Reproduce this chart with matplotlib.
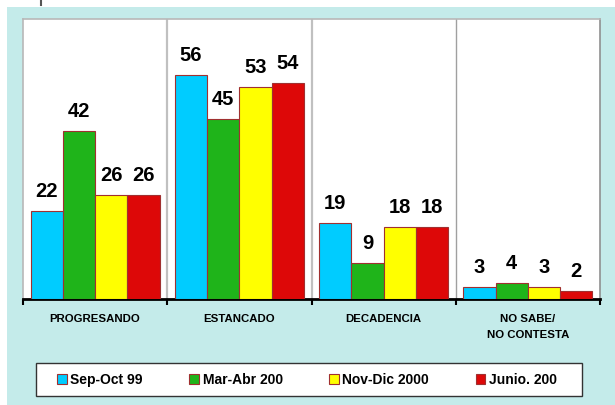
import numpy as np
import matplotlib
matplotlib.use('Agg')
import matplotlib.pyplot as plt
from matplotlib.patches import Patch, Rectangle
from matplotlib.lines import Line2D

plt.rcParams['font.family'] = ['Liberation Sans', 'DejaVu Sans']

# data
categories = ['PROGRESANDO', 'ESTANCADO', 'DECADENCIA', 'NO SABE/\nNO CONTESTA']
series = ['Sep-Oct 99', 'Mar-Abr 200', 'Nov-Dic 2000', 'Junio. 200']
sep_oct_99 = [22, 56, 19, 3]
mar_abr_200 = [42, 45, 9, 4]
nov_dic_2000 = [26, 53, 18, 3]
junio_200 = [26, 54, 18, 2]

values = [sep_oct_99, mar_abr_200, nov_dic_2000, junio_200]
colors = ['#00CCFF', '#1FB41A', '#FFFF00', '#DD0808']
edge = '#A03030'
teal = '#C4EBEA'

fig = plt.figure(figsize=(6.15, 4.06), dpi=100)
fig.patch.set_facecolor('white')
# teal panel behind the chart
fig.patches.append(Rectangle((7 / 615, 0), 1, 1 - 8 / 406, transform=fig.transFigure,
                             facecolor=teal, edgecolor='none', zorder=-10))
fig.lines.append(Line2D([41 / 615, 41 / 615], [1, 1 - 6 / 406], transform=fig.transFigure,
                        color='#555555', lw=1.5))
# legend box
fig.patches.append(Rectangle((36 / 615, 1 - 397 / 406), 546 / 615, 33 / 406,
                             transform=fig.transFigure, facecolor='white',
                             edgecolor='#333333', lw=1.0, zorder=1))

ax = fig.add_axes([23 / 615, 1 - 300 / 406, 577 / 615, 280 / 406])
ax.set_facecolor('white')

x = np.arange(len(categories))
w = 0.224
for i, (vals, col) in enumerate(zip(values, colors)):
    pos = x + (i - 1.5) * w
    bars = ax.bar(pos, vals, w, color=col, edgecolor=edge, linewidth=0.8, label=series[i], zorder=3)
    for b, v in zip(bars, vals):
        ax.annotate(str(v), (b.get_x() + b.get_width() / 2, v), xytext=(0, 8),
                    textcoords='offset points', ha='center', va='bottom',
                    fontsize=14.5, fontweight='bold')

ax.set_xlim(-0.5, 3.5)
ax.set_ylim(0, 70)

for bx in [0.5, 1.5]:
    ax.axvline(bx, color='#C0C0C0', lw=1.6, zorder=1)
ax.axvline(2.5, color='#A0A0A0', lw=1.0, zorder=1)

for s in ['left', 'top']:
    ax.spines[s].set_color('#B8B8B8')
    ax.spines[s].set_linewidth(1.2)
ax.spines['right'].set_color('#909090')
ax.spines['right'].set_linewidth(1.2)
ax.spines['bottom'].set_color('black')
ax.spines['bottom'].set_linewidth(2)

ax.set_yticks([])
ax.set_xticks([-0.5, 0.5, 1.5, 2.5, 3.5])
ax.set_xticklabels([])
ax.tick_params(axis='x', which='major', length=4, width=1.5, color='black', direction='out')
ax.set_xticks(x, minor=True)
ax.set_xticklabels(categories, minor=True, fontsize=8.2, fontweight='bold', linespacing=1.75)
ax.tick_params(axis='x', which='minor', length=0, pad=10)

handles = [Patch(facecolor=c, edgecolor=edge, linewidth=0.8) for c in colors]
leg = fig.legend(handles, series, loc='center', ncol=4,
                 bbox_to_anchor=(307 / 615, 1 - 380.5 / 406),
                 prop={'size': 10, 'weight': 'bold'}, handlelength=0.7, handleheight=0.7,
                 handletextpad=0.25, columnspacing=3.35, frameon=False)

fig.savefig('out.png', dpi=100, facecolor=fig.get_facecolor())
